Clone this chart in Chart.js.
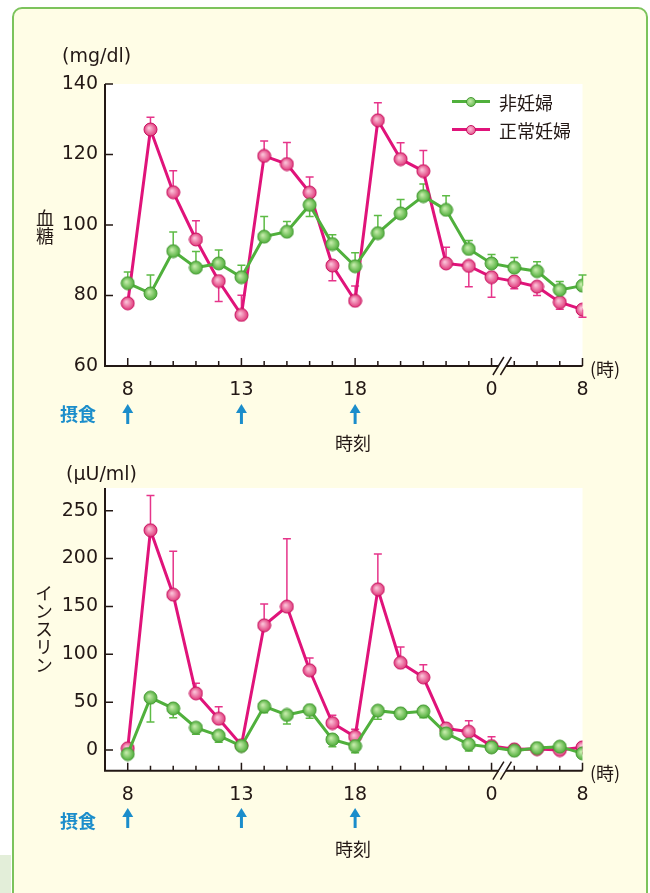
<!DOCTYPE html>
<html>
<head>
<meta charset="utf-8">
<script src="https://cdn.jsdelivr.net/npm/chart.js@4.4.1/dist/chart.umd.min.js"></script>
<style>
  body { margin: 0; width: 650px; height: 893px; overflow: hidden; background: #fff; position: relative; }
  #panel { position: absolute; left: 12px; top: 7px; width: 632px; height: 950px; background: #fffde6; border: 2px solid #7cc35c; border-radius: 10px; }
  #corner { position: absolute; left: 0; top: 855px; width: 11px; height: 40px; background: #e3eed9; }
  canvas { position: absolute; left: 0; }
  .t { position: absolute; color: #231815; font-family: "Noto Sans CJK JP", sans-serif; font-size: 18px; white-space: nowrap; line-height: 1; }
  .num { font-family: "DejaVu Sans", sans-serif; font-size: 19px; }
  .c { transform: translate(-50%, -50%); }
  .l { transform: translateY(-50%); }
  .v { writing-mode: vertical-rl; text-orientation: mixed; }
  .blue { color: #1b8dcb; font-weight: bold; }
  .lg { position: absolute; height: 3px; width: 38px; left: 452px; }
  .dot { position: absolute; width: 10px; height: 10px; border-radius: 50%; left: 466px; }
</style>
</head>
<body>
<div id="panel"></div>
<div id="corner"></div>
<canvas id="c1" width="650" height="440" style="top:0"></canvas>
<canvas id="c2" width="650" height="420" style="top:440px"></canvas>

<div class="t num l" style="left:62px;top:55px">(mg/dl)</div>
<div class="t num l" style="left:66px;top:473px">(μU/ml)</div>
<div class="t v c" style="left:45px;top:227px">血糖</div>
<div class="t v c" style="left:44px;top:629px">インスリン</div>
<div class="t l" style="left:590px;top:368px">(時)</div>
<div class="t l" style="left:590px;top:772px">(時)</div>
<div class="t blue c" style="left:78px;top:413px">摂食</div>
<div class="t blue c" style="left:78px;top:820px">摂食</div>
<div class="t c" style="left:353px;top:442px">時刻</div>
<div class="t c" style="left:353px;top:848px">時刻</div>

<div class="lg" style="top:100px;background:#50b03c"></div>
<div class="dot" style="top:97px;background:radial-gradient(circle at 40% 40%, #c6ecab, #4fae3a);border:1px solid #459a33;box-sizing:border-box"></div>
<div class="t l" style="left:499px;top:102px">非妊婦</div>
<div class="lg" style="top:128px;background:#e0137a"></div>
<div class="dot" style="top:125px;background:radial-gradient(circle at 40% 40%, #fbc3d8, #e03a7c);border:1px solid #c8105e;box-sizing:border-box"></div>
<div class="t l" style="left:499px;top:130px">正常妊婦</div>

<script>
// hours along the x axis (8h .. 23h, then every 2 h after midnight)
var hours = ['8','9','10','11','12','13','14','15','16','17','18','19','20','21','22','23','0','2','4','6','8'];
var labeledIdx = [0, 5, 10, 16, 20];
var mealIdx = [0, 5, 10];

var glucoseTicks = [60, 80, 100, 120, 140];
var insulinTicks = [0, 50, 100, 150, 200, 250];

// blood glucose (mg/dl); err = signed length of the one-sided error bar
var glucoseNon = [83.5, 80.6, 92.6, 87.9, 89.1, 85.2, 96.7, 98.1, 105.7, 94.6, 88.3, 97.7, 103.3, 108.2, 104.3, 93.2, 89.1, 87.9, 86.9, 81.6, 82.8];
var glucoseNonErr = [3.2, 5.2, 5.4, 4.6, 3.8, 3.4, 5.7, 2.9, -3.3, 2.6, 3.8, 5.0, 3.9, 3.4, 4.0, 2.4, 2.5, 2.9, 2.7, 2.4, 3.0];
var glucosePreg = [77.8, 127.1, 109.3, 95.9, 84.1, 74.5, 119.6, 117.3, 109.2, 88.5, 78.5, 129.7, 118.7, 115.3, 89.1, 88.4, 85.2, 84.0, 82.5, 78.1, 76.0];
var glucosePregErr = [0, 3.5, 6.1, 5.3, -5.8, 5.6, 4.2, 6.1, 4.4, -4.3, 4.2, 5.0, 4.6, 5.8, 4.6, -5.9, -5.7, -2.1, -2.5, -2.0, -2.2];

// insulin (μU/ml)
var insulinNon = [-4.2, 54.7, 43.5, 23.3, 15.0, 4.2, 45.6, 36.6, 41.8, 11.1, 4.2, 41.1, 38.3, 40.4, 17.4, 5.9, 2.8, -0.7, 2.1, 3.5, -3.5];
var insulinNonErr = [0, -25.4, -9.7, -6.9, -7.0, 0, -6.6, -9.4, -8.7, -7.6, -7.0, -9.0, -5.6, -6.6, 0, -6.9, -2.0, 0, 0, 0, 0];
var insulinPreg = [1.8, 229.6, 162.3, 59.2, 32.7, 5.0, 130.3, 149.8, 83.3, 28.2, 13.9, 167.9, 91.2, 75.9, 22.6, 19.2, 4.2, 0.7, 1.0, 0.0, 2.8];
var insulinPregErr = [0, 36.2, 45.3, 10.5, 12.6, 0, 22.3, 71.0, 12.8, 8.0, 7.7, 36.9, 16.4, 13.2, 0, 11.4, 9.7, 0, 0, 0, 0];

function ball(c1, c2, edge, r) {
  var cv = document.createElement('canvas');
  var s = Math.ceil(r * 2 + 2);
  cv.width = s; cv.height = s;
  var g = cv.getContext('2d');
  var grd = g.createRadialGradient(s / 2 - 1.5, s / 2 - 1.5, 0.5, s / 2, s / 2, r);
  grd.addColorStop(0, c1);
  grd.addColorStop(1, c2);
  g.fillStyle = grd;
  g.beginPath(); g.arc(s / 2, s / 2, r, 0, Math.PI * 2); g.fill();
  g.strokeStyle = edge; g.lineWidth = 1; g.stroke();
  return cv;
}
var greenBall = ball('#c6ecab', '#4fae3a', '#459a33', 6.5);
var pinkBall = ball('#fbc3d8', '#e03a7c', '#c8105e', 6.5);

function pts(arr) {
  return arr.map(function (v, i) { return { x: i, y: v }; });
}

var decor = {
  id: 'decor',
  beforeDraw: function (chart) {
    var a = chart.chartArea, ctx = chart.ctx;
    ctx.save();
    ctx.fillStyle = '#fff';
    ctx.fillRect(a.left, a.top, a.right - a.left, a.bottom - a.top);
    ctx.restore();
  },
  beforeDatasetsDraw: function (chart) {
    var ctx = chart.ctx, y = chart.scales.y;
    ctx.save();
    ctx.lineWidth = 1.5;
    chart.data.datasets.forEach(function (ds, di) {
      var meta = chart.getDatasetMeta(di);
      ctx.strokeStyle = ds.errColor;
      ds.err.forEach(function (e, i) {
        if (!e) return;
        var p = meta.data[i];
        var ye = y.getPixelForValue(ds.data[i].y + e);
        ctx.beginPath();
        ctx.moveTo(p.x, p.y); ctx.lineTo(p.x, ye);
        ctx.moveTo(p.x - 4, ye); ctx.lineTo(p.x + 4, ye);
        ctx.stroke();
      });
    });
    ctx.restore();
  },
  afterDraw: function (chart, args, opts) {
    var ctx = chart.ctx, a = chart.chartArea, x = chart.scales.x, y = chart.scales.y;
    ctx.save();
    ctx.strokeStyle = '#231815';
    ctx.lineWidth = 2;
    ctx.beginPath();
    ctx.moveTo(a.left, a.top); ctx.lineTo(a.left, a.bottom); ctx.lineTo(a.right, a.bottom);
    ctx.stroke();
    ctx.lineWidth = 1.5;
    ctx.beginPath();
    opts.yTicks.forEach(function (v) {
      var py = y.getPixelForValue(v);
      ctx.moveTo(a.left, py); ctx.lineTo(a.left + 8, py);
    });
    hours.forEach(function (h, i) {
      var px = x.getPixelForValue(i);
      var len = labeledIdx.indexOf(i) >= 0 ? 8 : 5;
      ctx.moveTo(px, a.bottom); ctx.lineTo(px, a.bottom - len);
    });
    ctx.stroke();
    // axis break between 0 and 2
    var bx = (x.getPixelForValue(16) + x.getPixelForValue(17)) / 2;
    ctx.fillStyle = '#fff';
    ctx.fillRect(bx - 4, a.bottom - 1.5, 7, 3);
    ctx.lineWidth = 1.5;
    ctx.beginPath();
    [-4.5, 3].forEach(function (dx) {
      ctx.moveTo(bx + dx - 5.5, a.bottom + 9); ctx.lineTo(bx + dx + 5.5, a.bottom - 9);
    });
    ctx.stroke();
    // meal arrows
    ctx.fillStyle = '#1b8dcb';
    mealIdx.forEach(function (i) {
      var px = x.getPixelForValue(i), t = opts.arrowY;
      ctx.beginPath();
      ctx.moveTo(px, t); ctx.lineTo(px + 5.5, t + 9); ctx.lineTo(px - 5.5, t + 9); ctx.closePath();
      ctx.fill();
      ctx.fillRect(px - 1.5, t + 8, 3, 12);
    });
    ctx.restore();
  }
};

function makeChart(id, non, nonErr, preg, pregErr, yMin, yMax, yTicks, pad, xHeight, arrowY) {
  return new Chart(document.getElementById(id), {
    type: 'line',
    data: {
      datasets: [
        { label: '非妊婦', data: pts(non), err: nonErr, errColor: '#5dbb45',
          borderColor: '#50b03c', borderWidth: 3, pointStyle: greenBall, pointRadius: 7, tension: 0 },
        { label: '正常妊婦', data: pts(preg), err: pregErr, errColor: '#e6348a',
          borderColor: '#e0137a', borderWidth: 3, pointStyle: pinkBall, pointRadius: 7, tension: 0 }
      ]
    },
    options: {
      responsive: false,
      animation: false,
      layout: { padding: pad },
      plugins: {
        legend: { display: false },
        tooltip: { enabled: false },
        decor: { yTicks: yTicks, arrowY: arrowY }
      },
      scales: {
        x: {
          type: 'linear', min: -1, max: 20,
          grid: { display: false, drawTicks: false }, border: { display: false },
          afterFit: function (s) { s.height = xHeight; },
          afterBuildTicks: function (s) { s.ticks = hours.map(function (h, i) { return { value: i }; }); },
          ticks: {
            autoSkip: false, maxRotation: 0, padding: 13, color: '#231815',
            font: { family: 'DejaVu Sans', size: 19 },
            callback: function (v) { return labeledIdx.indexOf(v) >= 0 ? hours[v] : ''; }
          }
        },
        y: {
          min: yMin, max: yMax,
          grid: { display: false, drawTicks: false }, border: { display: false },
          afterFit: function (s) { s.width = 105; },
          afterBuildTicks: function (s) { s.ticks = yTicks.map(function (v) { return { value: v }; }); },
          ticks: { padding: 7, color: '#231815', font: { family: 'DejaVu Sans', size: 19 } }
        }
      }
    },
    plugins: [decor]
  });
}

makeChart('c1', glucoseNon, glucoseNonErr, glucosePreg, glucosePregErr, 60, 140, glucoseTicks,
  { top: 84, right: 67.5, left: 0, bottom: 0 }, 74, 404);
makeChart('c2', insulinNon, insulinNonErr, insulinPreg, insulinPregErr, -21.6, 273.7, insulinTicks,
  { top: 48, right: 67.5, left: 0, bottom: 0 }, 89.3, 368);
</script>
</body>
</html>
